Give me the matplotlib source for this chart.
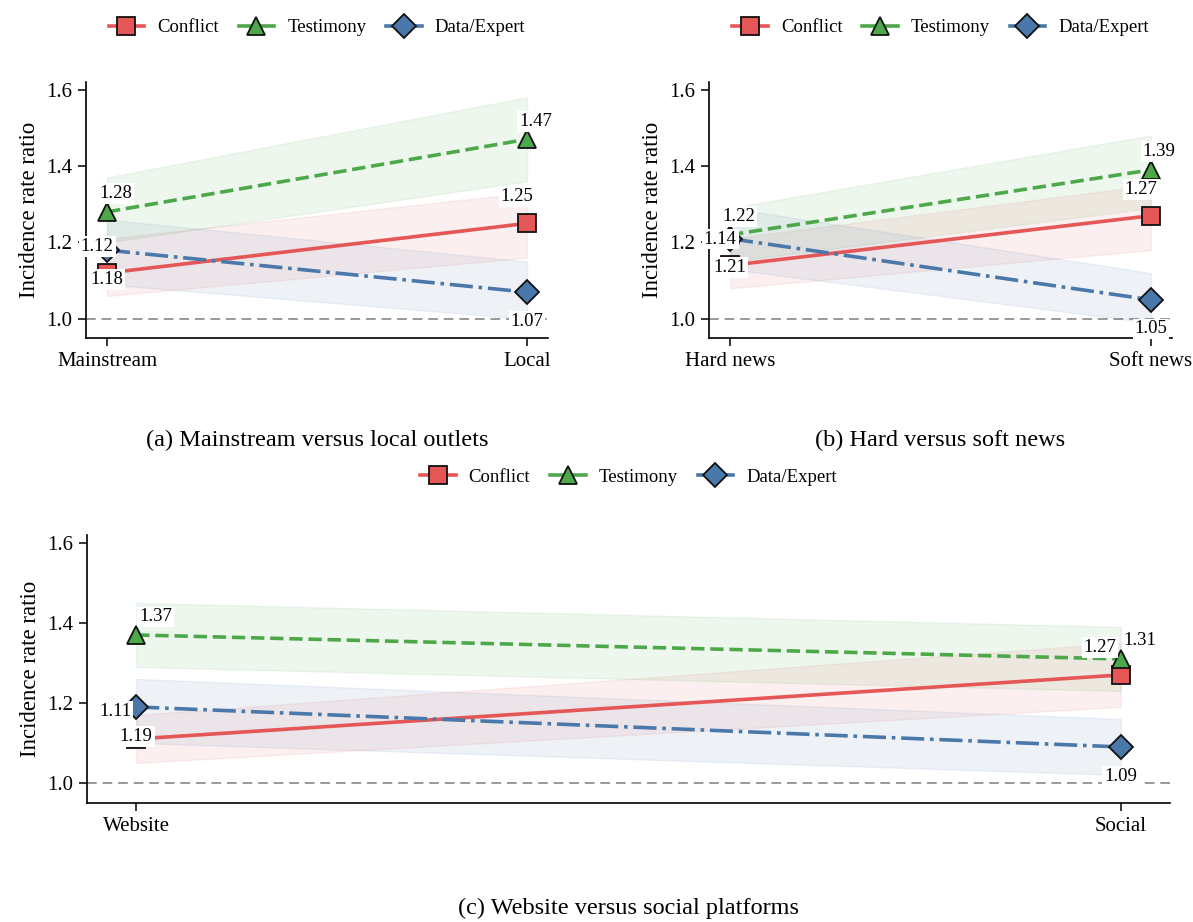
"""Incidence rate ratios by source type across three outlet/format splits."""

import matplotlib
matplotlib.use("Agg")
import matplotlib.pyplot as plt
from matplotlib.lines import Line2D

plt.rcParams["font.family"] = ["Liberation Serif", "DejaVu Serif"]

SERIES = ["Conflict", "Testimony", "Data/Expert"]
COLORS = {"Conflict": "#E45756", "Testimony": "#4DA84A", "Data/Expert": "#4A78AA"}
MARKERS = {"Conflict": "s", "Testimony": "^", "Data/Expert": "D"}
LINESTYLES = {"Conflict": "-", "Testimony": "--", "Data/Expert": "-."}
MSIZE = {"Conflict": 13, "Testimony": 13, "Data/Expert": 12}

# (a) mainstream vs local
a_levels = ["Mainstream", "Local"]
a_conflict = [1.12, 1.25]
a_conflict_lo = [1.06, 1.16]
a_conflict_hi = [1.21, 1.33]
a_testimony = [1.28, 1.47]
a_testimony_lo = [1.20, 1.36]
a_testimony_hi = [1.37, 1.58]
a_data = [1.18, 1.07]
a_data_lo = [1.09, 1.00]
a_data_hi = [1.26, 1.15]

# (b) hard vs soft news
b_levels = ["Hard news", "Soft news"]
b_conflict = [1.14, 1.27]
b_conflict_lo = [1.08, 1.18]
b_conflict_hi = [1.21, 1.35]
b_testimony = [1.22, 1.39]
b_testimony_lo = [1.15, 1.29]
b_testimony_hi = [1.29, 1.48]
b_data = [1.21, 1.05]
b_data_lo = [1.13, 0.99]
b_data_hi = [1.29, 1.12]

# (c) website vs social
c_levels = ["Website", "Social"]
c_conflict = [1.11, 1.27]
c_conflict_lo = [1.05, 1.19]
c_conflict_hi = [1.17, 1.35]
c_testimony = [1.37, 1.31]
c_testimony_lo = [1.29, 1.23]
c_testimony_hi = [1.45, 1.39]
c_data = [1.19, 1.09]
c_data_lo = [1.10, 1.02]
c_data_hi = [1.26, 1.16]

# label offsets (points) per series, so overlapping labels don't collide
OFFSETS_TOP = {"Conflict": (-7, 19), "Testimony": (6, 13), "Data/Expert": (0, -21)}
OFFSETS_WIDE = {"Conflict": (-15, 20), "Testimony": (14, 13), "Data/Expert": (0, -21)}


def draw_panel(ax, levels, est, lo, hi, offsets):
    xs = list(range(len(levels)))
    ax.axhline(1.0, color="#999999", lw=1.4, ls=(0, (5, 3)), zorder=1)
    for name in SERIES:
        c = COLORS[name]
        ax.fill_between(xs, lo[name], hi[name], color=c, alpha=0.09, lw=1.0, zorder=2)
    for name in SERIES:
        c = COLORS[name]
        ax.plot(xs, est[name], color=c, ls=LINESTYLES[name], lw=2.6,
                marker=MARKERS[name], markersize=MSIZE[name],
                markerfacecolor=c, markeredgecolor="#111111", markeredgewidth=1.3,
                zorder=3)
    for name in SERIES:
        dx, dy = offsets[name]
        for x, y in zip(xs, est[name]):
            ax.annotate(f"{y:.2f}", (x, y), textcoords="offset points", xytext=(dx, dy),
                        ha="center", va="center", fontsize=13.5,
                        bbox=dict(boxstyle="square,pad=0.1", fc="white", ec="none"),
                        zorder=5)
    ax.set_xlim(-0.05, 1.05)
    ax.set_ylim(0.95, 1.62)
    ax.set_xticks(xs)
    ax.set_xticklabels(levels)
    ax.set_yticks([1.0, 1.2, 1.4, 1.6])
    ax.set_ylabel("Incidence rate ratio", fontsize=16.5)
    ax.tick_params(labelsize=15, length=6, width=1.1, pad=4)
    for s in ("top", "right"):
        ax.spines[s].set_visible(False)
    for s in ("left", "bottom"):
        ax.spines[s].set_linewidth(1.2)


def legend_handles():
    return [Line2D([], [], color=COLORS[n], lw=2.6, marker=MARKERS[n],
                   markersize=MSIZE[n], markerfacecolor=COLORS[n],
                   markeredgecolor="#111111", markeredgewidth=1.3)
            for n in SERIES]


def main():
    fig = plt.figure(figsize=(11.93, 9.22), dpi=100)
    ax_a = fig.add_axes([0.0721, 0.6334, 0.3873, 0.2777])
    ax_b = fig.add_axes([0.5943, 0.6334, 0.3881, 0.2777])
    ax_c = fig.add_axes([0.0729, 0.1291, 0.9078, 0.2907])

    panels = [
        (ax_a, a_levels,
         {"Conflict": a_conflict, "Testimony": a_testimony, "Data/Expert": a_data},
         {"Conflict": a_conflict_lo, "Testimony": a_testimony_lo, "Data/Expert": a_data_lo},
         {"Conflict": a_conflict_hi, "Testimony": a_testimony_hi, "Data/Expert": a_data_hi},
         OFFSETS_TOP, "(a) Mainstream versus local outlets", 0.5228, 0.970),
        (ax_b, b_levels,
         {"Conflict": b_conflict, "Testimony": b_testimony, "Data/Expert": b_data},
         {"Conflict": b_conflict_lo, "Testimony": b_testimony_lo, "Data/Expert": b_data_lo},
         {"Conflict": b_conflict_hi, "Testimony": b_testimony_hi, "Data/Expert": b_data_hi},
         OFFSETS_TOP, "(b) Hard versus soft news", 0.5228, 0.970),
        (ax_c, c_levels,
         {"Conflict": c_conflict, "Testimony": c_testimony, "Data/Expert": c_data},
         {"Conflict": c_conflict_lo, "Testimony": c_testimony_lo, "Data/Expert": c_data_lo},
         {"Conflict": c_conflict_hi, "Testimony": c_testimony_hi, "Data/Expert": c_data_hi},
         OFFSETS_WIDE, "(c) Website versus social platforms", 0.0152, 0.4825),
    ]

    for ax, levels, est, lo, hi, offs, title, ty, ly in panels:
        draw_panel(ax, levels, est, lo, hi, offs)
        pos = ax.get_position()
        cx = pos.x0 + pos.width / 2
        fig.text(cx, ty, title, ha="center", va="center", fontsize=17.5)
        fig.legend(legend_handles(), SERIES, loc="center", bbox_to_anchor=(cx, ly),
                   ncol=3, frameon=False, fontsize=13.5, handlelength=1.9,
                   columnspacing=1.05, handletextpad=0.7)

    fig.savefig("out.png", dpi=100)
    plt.close(fig)


if __name__ == "__main__":
    main()
